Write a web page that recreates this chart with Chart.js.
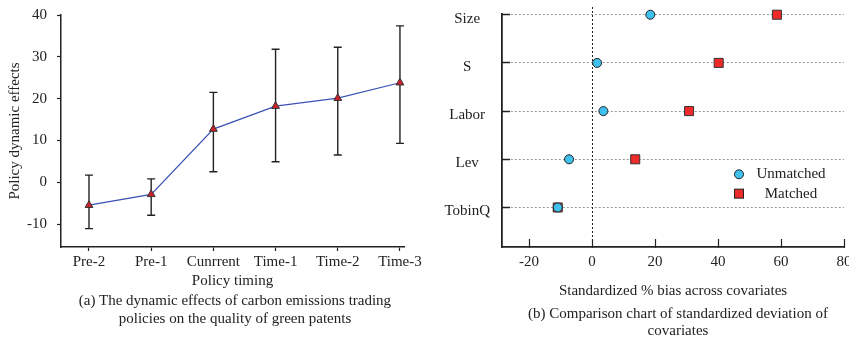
<!DOCTYPE html>
<html>
<head>
<meta charset="utf-8">
<script src="https://cdn.jsdelivr.net/npm/chart.js@4.4.1/dist/chart.umd.min.js"></script>
<style>
  html, body { margin: 0; padding: 0; background: #fff; width: 849px; height: 337px; overflow: hidden; position: relative; }
  .cv { position: absolute; top: 0; }
  .cap { position: absolute; font-family: "Liberation Serif", "Times New Roman", serif; font-size: 15px; color: #222; text-align: center; white-space: nowrap; }
</style>
</head>
<body>
<canvas id="left" class="cv" width="440" height="300" style="left:0px"></canvas>
<canvas id="right" class="cv" width="440" height="300" style="left:430px"></canvas>
<div class="cap" style="left:0px; width:470px; top:291px; line-height:18px;">(a) The dynamic effects of carbon emissions trading<br>policies on the quality of green patents</div>
<div class="cap" style="left:508px; width:340px; top:305px; line-height:17px;">(b) Comparison chart of standardized deviation of<br>covariates</div>
<script>
// ---------- Data: panel (a) ----------
const categories = ['Pre-2', 'Pre-1', 'Cunrrent', 'Time-1', 'Time-2', 'Time-3'];
const effects    = [-5.5, -2.9, 12.7, 18.2, 20.1, 23.8];
const upperCI    = [1.7, 0.8, 21.5, 31.8, 32.3, 37.4];
const lowerCI    = [-11.1, -7.9, 2.5, 4.9, 6.5, 9.3];
const effectTicks = [-10, 0, 10, 20, 30, 40];

// ---------- Data: panel (b) ----------
const covariates = ['TobinQ', 'Lev', 'Labor', 'S', 'Size'];   // bottom to top
const unmatched  = [-10.9, -7.3, 3.6, 1.6, 18.5];
const matched    = [-10.9, 13.7, 30.8, 40.2, 58.7];
const biasTicks  = [-20, 0, 20, 40, 60, 80];

Chart.defaults.font.family = '"Liberation Serif", "Times New Roman", serif';
Chart.defaults.font.size = 15;
Chart.defaults.color = '#222';

const AX = '#222';
const noPad = s => { s.paddingTop = 0; s.paddingBottom = 0; s.paddingLeft = 0; s.paddingRight = 0; };

// ---------- Panel (a) ----------
const errorBars = {
  id: 'errorBars',
  beforeDatasetsDraw(chart) {
    const {ctx, scales: {x, y}} = chart;
    ctx.save();
    ctx.strokeStyle = '#222';
    ctx.lineWidth = 1.4;
    categories.forEach((c, i) => {
      const px = x.getPixelForValue(i + 1);
      const top = y.getPixelForValue(upperCI[i]);
      const bot = y.getPixelForValue(lowerCI[i]);
      ctx.beginPath();
      ctx.moveTo(px, top); ctx.lineTo(px, bot);
      ctx.moveTo(px - 4, top); ctx.lineTo(px + 4, top);
      ctx.moveTo(px - 4, bot); ctx.lineTo(px + 4, bot);
      ctx.stroke();
    });
    ctx.restore();
  }
};

new Chart(document.getElementById('left'), {
  type: 'line',
  data: {
    datasets: [{
      data: effects.map((v, i) => ({x: i + 1, y: v})),
      borderColor: '#3a52b4',
      borderWidth: 1.2,
      pointStyle: 'triangle',
      pointRadius: 4.5,
      pointBackgroundColor: '#d0212a',
      pointBorderColor: '#333',
      pointBorderWidth: 1,
      tension: 0,
      clip: false
    }]
  },
  options: {
    responsive: false,
    animation: false,
    devicePixelRatio: 1,
    layout: { padding: { left: 0, top: 15, right: 36, bottom: 0 } },
    plugins: { legend: { display: false }, tooltip: { enabled: false } },
    scales: {
      x: {
        type: 'linear',
        min: 0.55, max: 6.065,
        afterBuildTicks: s => { s.ticks = categories.map((c, i) => ({value: i + 1})); },
        afterFit: s => { s.height = 53; noPad(s); },
        ticks: { callback: (v, i) => categories[i], autoSkip: false, maxRotation: 0, padding: 2, color: '#222' },
        grid: { drawOnChartArea: false, drawTicks: true, tickLength: 4, tickColor: AX, tickWidth: 1.2 },
        border: { display: true, color: AX, width: 1.5 },
        title: { display: true, text: 'Policy timing', padding: { top: 0, bottom: 10 }, color: '#222' }
      },
      y: {
        min: -15.5, max: 40,
        afterBuildTicks: s => { s.ticks = effectTicks.map(v => ({value: v})); },
        afterFit: s => { s.width = 61; noPad(s); },
        ticks: { padding: 10, color: '#222' },
        grid: { drawOnChartArea: false, drawTicks: true, tickLength: 4, tickColor: AX, tickWidth: 1.2 },
        border: { display: true, color: AX, width: 1.5 },
        title: { display: true, text: 'Policy dynamic effects', padding: { top: 6, bottom: 0 }, color: '#222' }
      }
    }
  },
  plugins: [errorBars]
});

// ---------- Panel (b) ----------
const zeroLine = {
  id: 'zeroLine',
  beforeDatasetsDraw(chart) {
    const {ctx, chartArea, scales: {x}} = chart;
    const px = Math.round(x.getPixelForValue(0)) + 0.5;
    ctx.save();
    ctx.strokeStyle = '#222';
    ctx.lineWidth = 1;
    ctx.setLineDash([2, 2]);
    ctx.beginPath();
    ctx.moveTo(px, chartArea.top - 7);
    ctx.lineTo(px, chartArea.bottom);
    ctx.stroke();
    ctx.restore();
  }
};

const innerLegend = {
  id: 'innerLegend',
  afterDraw(chart) {
    const {ctx, chartArea: a} = chart;
    const w = a.right - a.left, h = a.bottom - a.top;
    const mx = a.left + 0.693 * w;
    const tx = a.left + 0.845 * w;
    const y1 = a.top + 0.688 * h;
    const y2 = a.top + 0.771 * h;
    ctx.save();
    ctx.lineWidth = 1;
    ctx.strokeStyle = '#222';
    ctx.fillStyle = '#3ec1ef';
    ctx.beginPath(); ctx.arc(mx, y1, 4.5, 0, Math.PI * 2); ctx.fill(); ctx.stroke();
    ctx.fillStyle = '#ee2a2a';
    ctx.fillRect(mx - 4.5, y2 - 4.5, 9, 9); ctx.strokeRect(mx - 4.5, y2 - 4.5, 9, 9);
    ctx.fillStyle = '#222';
    ctx.font = '15px "Liberation Serif", "Times New Roman", serif';
    ctx.textAlign = 'center';
    ctx.textBaseline = 'middle';
    ctx.fillText(chart.data.datasets[0].label, tx, y1);
    ctx.fillText(chart.data.datasets[1].label, tx, y2);
    ctx.restore();
  }
};

new Chart(document.getElementById('right'), {
  type: 'scatter',
  data: {
    datasets: [{
      label: 'Unmatched',
      order: 1,
      clip: false,
      data: unmatched.map((v, i) => ({x: v, y: i + 1})),
      pointStyle: 'circle',
      pointRadius: 4.5,
      pointBackgroundColor: '#3ec1ef',
      pointBorderColor: '#222',
      pointBorderWidth: 1
    }, {
      label: 'Matched',
      order: 2,
      clip: false,
      data: matched.map((v, i) => ({x: v, y: i + 1})),
      pointStyle: 'rect',
      pointRadius: 6.4,
      pointBackgroundColor: '#ee2a2a',
      pointBorderColor: '#333',
      pointBorderWidth: 1
    }]
  },
  options: {
    responsive: false,
    animation: false,
    devicePixelRatio: 1,
    layout: { padding: { left: 0, top: 14, right: 26, bottom: 0 } },
    plugins: { legend: { display: false }, tooltip: { enabled: false } },
    scales: {
      x: {
        type: 'linear',
        min: -28.6, max: 80,
        afterBuildTicks: s => { s.ticks = biasTicks.map(v => ({value: v})); },
        afterFit: s => { s.height = 53; noPad(s); },
        ticks: { padding: 14, maxRotation: 0, autoSkip: false, color: '#222' },
        grid: { drawOnChartArea: false, drawTicks: true, tickLength: -8, tickColor: AX, tickWidth: 1.2 },
        border: { display: true, color: AX, width: 1.8 },
        title: { display: true, text: 'Standardized % bias across covariates', padding: { top: 0, bottom: 0 }, color: '#222' }
      },
      y: {
        type: 'linear',
        min: 0.18, max: 5.015,
        afterBuildTicks: s => { s.ticks = covariates.map((c, i) => ({value: i + 1})); },
        afterFit: s => { s.width = 72; noPad(s); },
        ticks: { callback: (v, i) => covariates[i], crossAlign: 'center', padding: 20, labelOffset: 4, color: '#222' },
        grid: { drawOnChartArea: true, color: '#9a9a9a', lineWidth: 1, drawTicks: true, tickLength: -8, tickColor: AX, tickWidth: 1.5, tickBorderDash: [] },
        border: { display: true, color: AX, width: 1.8, dash: [2, 2] }
      }
    }
  },
  plugins: [zeroLine, innerLegend]
});
</script>
</body>
</html>
